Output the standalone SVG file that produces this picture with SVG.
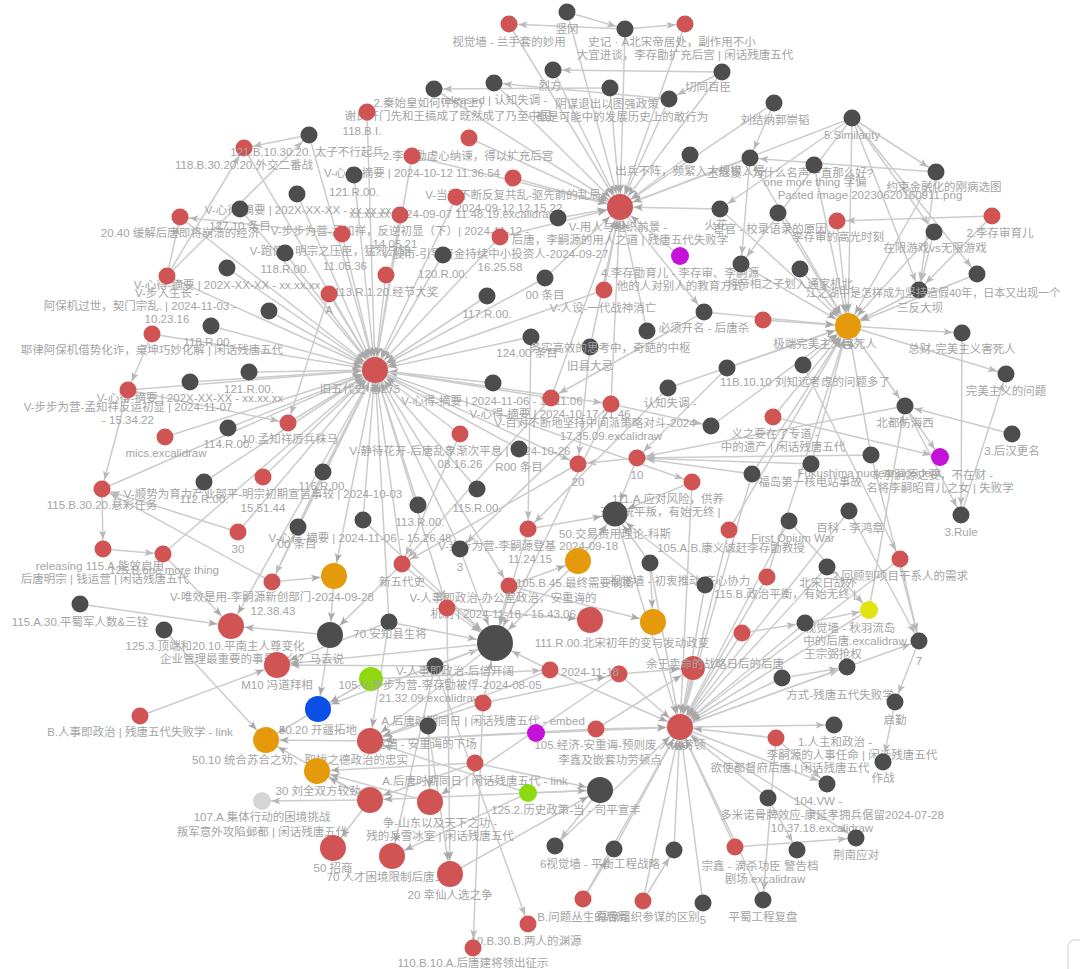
<svg xmlns="http://www.w3.org/2000/svg" width="1080" height="969" viewBox="0 0 1080 969">
<style>
.e path{stroke:#cccccc;stroke-width:1.5;fill:none}
.s{marker-end:url(#a8)}.m{marker-end:url(#a13)}.b{marker-end:url(#a18)}
.r{fill:#d15454}.d{fill:#4d4d4d}.o{fill:#e59a0c}.p{fill:#c412d9}.g{fill:#8fd911}.y{fill:#e3e312}.bl{fill:#0a50e6}.l{fill:#d5d5d5}
text{font-family:"Liberation Sans","Noto Sans CJK SC",sans-serif;font-size:11.5px;fill:#a4a4a4;text-anchor:middle}
.st{text-anchor:start;font-size:11px}
</style>
<defs>
<marker id="a8" viewBox="0 0 10 10" refX="20.5" refY="5" markerWidth="9" markerHeight="9" markerUnits="userSpaceOnUse" orient="auto"><path d="M0,1 L10,5 L0,9 L2.5,5 Z" fill="#b8b8b8"/></marker>
<marker id="a13" viewBox="0 0 10 10" refX="25.5" refY="5" markerWidth="9" markerHeight="9" markerUnits="userSpaceOnUse" orient="auto"><path d="M0,1 L10,5 L0,9 L2.5,5 Z" fill="#a8a8a8"/></marker>
<marker id="a18" viewBox="0 0 10 10" refX="31" refY="5" markerWidth="9" markerHeight="9" markerUnits="userSpaceOnUse" orient="auto"><path d="M0,1 L10,5 L0,9 L2.5,5 Z" fill="#b0b0b0"/></marker>
</defs>
<rect width="1080" height="969" fill="#ffffff"/>
<g id="edges" class="e">
<path class="m" d="M244 148L375 370"/><path class="m" d="M309 135L375 370"/><path class="m" d="M354 175L375 370"/><path class="m" d="M297 194L375 370"/><path class="m" d="M240 209L375 370"/><path class="m" d="M342 234L375 370"/><path class="m" d="M285 253L375 370"/><path class="m" d="M227 268L375 370"/><path class="m" d="M167 276L375 370"/><path class="m" d="M329 294L375 370"/><path class="m" d="M269 311L375 370"/><path class="m" d="M211 326L375 370"/><path class="m" d="M152 334L375 370"/><path class="m" d="M249 372L375 370"/><path class="m" d="M190 382L375 370"/><path class="m" d="M128 390L375 370"/><path class="m" d="M165 437L375 370"/><path class="m" d="M228 428L375 370"/><path class="m" d="M288 423L375 370"/><path class="m" d="M323 472L375 370"/><path class="m" d="M263 477L375 370"/><path class="m" d="M204 482L375 370"/><path class="m" d="M298 527L375 370"/><path class="m" d="M363 520L375 370"/><path class="m" d="M418 505L375 370"/><path class="m" d="M443 255L375 370"/><path class="m" d="M386 275L375 370"/><path class="m" d="M400 215L375 370"/><path class="m" d="M412 156L375 370"/><path class="m" d="M487 296L375 370"/><path class="m" d="M531 337L375 370"/><path class="m" d="M493 383L375 370"/><path class="m" d="M551 398L375 370"/><path class="m" d="M460 434L375 370"/><path class="m" d="M477 489L375 370"/><path class="m" d="M519 449L375 370"/><path class="m" d="M402 564L375 370"/><path class="m" d="M272 582L375 370"/><path class="m" d="M460 549L375 370"/><path class="m" d="M367 112L375 370"/><path class="m" d="M456 197L375 370"/><path class="m" d="M180 217L375 370"/><path class="m" d="M238 532L375 370"/><path class="m" d="M545 278L375 370"/><path class="m" d="M389 622L375 370"/><path class="m" d="M604 290L375 370"/><path class="m" d="M500 237L375 370"/><path class="m" d="M102 489L375 370"/><path class="m" d="M163 554L375 370"/>
<path class="s" d="M375 370L611 404"/><path class="s" d="M375 370L578 464"/><path class="s" d="M375 370L447 608"/><path class="s" d="M375 370L509 586"/><path class="m" d="M375 370L334 576"/><path class="m" d="M375 370L231 626"/><path class="s" d="M375 370L692 482"/>
<path class="s" d="M309 135L244 148"/><path class="s" d="M167 276L244 148"/><path class="s" d="M167 276L180 217"/><path class="s" d="M342 234L180 217"/><path class="s" d="M167 276L309 135"/><path class="s" d="M152 334L128 390"/><path class="s" d="M128 390L102 489"/><path class="s" d="M102 489L103 549"/><path class="s" d="M128 390L288 423"/><path class="s" d="M238 532L102 489"/><path class="s" d="M272 582L102 489"/><path class="m" d="M163 554L231 626"/><path class="m" d="M80 604L231 626"/><path class="m" d="M164 630L266 740"/><path class="m" d="M140 716L277 665"/><path class="m" d="M272 582L334 576"/><path class="s" d="M323 472L272 582"/><path class="s" d="M329 294L288 423"/><path class="s" d="M103 549L163 554"/>
<path class="m" d="M330 635L231 626"/><path class="m" d="M330 635L318 709"/><path class="m" d="M389 622L277 665"/><path class="m" d="M435 666L277 665"/><path class="m" d="M371 679L318 709"/><path class="m" d="M370 741L266 740"/><path class="m" d="M318 709L266 740"/><path class="m" d="M370 800L266 740"/><path class="m" d="M370 800L317 771"/><path class="m" d="M430 802L317 771"/><path class="m" d="M475 763L317 771"/><path class="s" d="M370 800L262 801"/><path class="m" d="M370 800L333 848"/><path class="m" d="M483 703L370 741"/><path class="m" d="M536 733L370 741"/><path class="m" d="M528 793L370 741"/><path class="m" d="M596 729L370 741"/><path class="m" d="M475 763L370 800"/><path class="m" d="M600 790L370 800"/><path class="m" d="M528 793L392 856"/><path class="m" d="M428 726L450 874"/><path class="m" d="M447 608L450 874"/><path class="s" d="M435 666L528 924"/><path class="s" d="M483 703L473 948"/><path class="m" d="M402 564L330 635"/><path class="m" d="M334 576L330 635"/><path class="m" d="M389 622L370 741"/><path class="m" d="M428 726L430 802"/><path class="m" d="M435 666L392 856"/><path class="m" d="M550 670L370 741"/><path class="m" d="M619 674L430 802"/>
<path class="b" d="M447 608L495 643"/><path class="b" d="M509 586L495 643"/><path class="b" d="M402 564L495 643"/><path class="b" d="M460 549L495 643"/><path class="b" d="M389 622L495 643"/><path class="b" d="M435 666L495 643"/><path class="b" d="M483 703L495 643"/><path class="b" d="M550 670L495 643"/><path class="b" d="M578 561L495 643"/><path class="b" d="M528 529L495 643"/><path class="b" d="M363 520L495 643"/><path class="b" d="M611 404L495 643"/><path class="m" d="M495 643L370 741"/><path class="m" d="M495 643L277 665"/><path class="m" d="M495 643L318 709"/>
<path class="m" d="M578 561L615 514"/><path class="m" d="M692 482L615 514"/><path class="m" d="M637 458L615 514"/><path class="m" d="M528 529L615 514"/><path class="m" d="M650 563L615 514"/><path class="m" d="M705 585L615 514"/><path class="s" d="M637 458L578 464"/><path class="s" d="M578 464L402 564"/><path class="s" d="M811 464L637 458"/><path class="s" d="M871 455L637 458"/><path class="s" d="M752 474L637 458"/><path class="s" d="M727 368L637 458"/><path class="s" d="M905 406L637 458"/><path class="s" d="M611 404L460 549"/><path class="s" d="M611 404L711 426"/><path class="s" d="M551 398L402 564"/><path class="s" d="M460 434L402 564"/><path class="s" d="M590 347L578 464"/><path class="m" d="M509 586L578 561"/><path class="m" d="M447 608L590 620"/><path class="m" d="M509 586L653 622"/><path class="m" d="M650 563L653 622"/><path class="s" d="M531 337L528 529"/><path class="s" d="M668 388L528 529"/><path class="s" d="M704 312L551 398"/>
<path class="m" d="M567 12L620 207"/><path class="m" d="M509 24L620 207"/><path class="m" d="M625 29L620 207"/><path class="m" d="M685 24L620 207"/><path class="m" d="M553 70L620 207"/><path class="m" d="M494 83L620 207"/><path class="m" d="M610 88L620 207"/><path class="m" d="M669 99L620 207"/><path class="m" d="M722 72L620 207"/><path class="m" d="M774 103L620 207"/><path class="m" d="M690 155L620 207"/><path class="m" d="M720 209L620 207"/><path class="m" d="M558 218L620 207"/><path class="m" d="M513 178L620 207"/><path class="m" d="M469 138L620 207"/><path class="m" d="M500 237L620 207"/><path class="m" d="M545 278L620 207"/><path class="m" d="M604 290L620 207"/><path class="m" d="M680 256L620 207"/><path class="m" d="M750 158L620 207"/><path class="m" d="M852 118L620 207"/><path class="m" d="M434 89L620 207"/><path class="m" d="M551 398L620 207"/><path class="m" d="M611 404L620 207"/><path class="m" d="M412 156L620 207"/><path class="s" d="M620 207L704 312"/><path class="m" d="M590 347L620 207"/><path class="m" d="M647 331L620 207"/>
<path class="s" d="M625 29L509 24"/><path class="s" d="M625 29L685 24"/><path class="s" d="M722 72L553 70"/><path class="s" d="M610 88L434 89"/><path class="s" d="M567 12L625 29"/><path class="s" d="M669 99L494 83"/><path class="s" d="M722 72L669 99"/>
<path class="m" d="M852 118L848 326"/><path class="m" d="M750 158L848 326"/><path class="m" d="M814 165L848 326"/><path class="m" d="M936 172L848 326"/><path class="m" d="M778 213L848 326"/><path class="m" d="M837 221L848 326"/><path class="m" d="M934 232L848 326"/><path class="m" d="M741 264L848 326"/><path class="m" d="M800 269L848 326"/><path class="m" d="M919 290L848 326"/><path class="m" d="M763 320L848 326"/><path class="m" d="M977 274L848 326"/><path class="m" d="M803 365L848 326"/><path class="m" d="M727 368L848 326"/><path class="m" d="M773 417L848 326"/><path class="m" d="M811 464L848 326"/><path class="m" d="M871 455L848 326"/><path class="m" d="M752 474L848 326"/><path class="m" d="M729 530L848 326"/><path class="m" d="M767 577L848 326"/><path class="m" d="M704 312L848 326"/><path class="m" d="M711 426L848 326"/><path class="m" d="M668 388L848 326"/><path class="m" d="M720 209L848 326"/>
<path class="s" d="M848 326L962 333"/><path class="s" d="M848 326L1006 374"/><path class="s" d="M848 326L905 406"/><path class="s" d="M852 118L936 172"/><path class="s" d="M936 172L750 158"/><path class="s" d="M852 118L934 232"/><path class="s" d="M852 118L919 290"/><path class="s" d="M852 118L977 274"/><path class="s" d="M852 118L720 209"/><path class="s" d="M774 103L750 158"/><path class="s" d="M992 216L837 221"/><path class="s" d="M936 172L919 290"/><path class="s" d="M934 232L919 290"/><path class="s" d="M750 158L741 264"/><path class="s" d="M992 216L919 290"/><path class="s" d="M852 118L741 264"/>
<path class="s" d="M962 333L961 515"/><path class="s" d="M961 515L1006 374"/><path class="s" d="M1012 434L905 406"/><path class="s" d="M905 406L961 515"/><path class="s" d="M905 406L940 457"/><path class="s" d="M773 417L940 457"/><path class="s" d="M871 455L919 641"/><path class="s" d="M900 559L919 641"/><path class="s" d="M869 610L905 406"/><path class="s" d="M849 511L919 641"/><path class="s" d="M803 365L900 559"/>
<path class="m" d="M693 668L680 727"/><path class="m" d="M619 674L680 727"/><path class="m" d="M596 729L680 727"/><path class="m" d="M776 738L680 727"/><path class="m" d="M782 678L680 727"/><path class="m" d="M768 798L680 727"/><path class="m" d="M735 847L680 727"/><path class="m" d="M674 850L680 727"/><path class="m" d="M614 849L680 727"/><path class="m" d="M643 901L680 727"/><path class="m" d="M703 903L680 727"/><path class="m" d="M583 899L680 727"/><path class="m" d="M742 633L680 727"/><path class="m" d="M767 577L680 727"/><path class="m" d="M705 585L680 727"/><path class="m" d="M650 563L680 727"/><path class="m" d="M550 670L680 727"/><path class="m" d="M536 733L680 727"/><path class="m" d="M615 514L680 727"/><path class="m" d="M729 530L680 727"/><path class="m" d="M849 511L680 727"/><path class="m" d="M900 559L680 727"/><path class="m" d="M869 610L680 727"/><path class="m" d="M805 623L680 727"/><path class="m" d="M827 567L680 727"/><path class="m" d="M752 474L680 727"/><path class="m" d="M763 900L680 727"/><path class="m" d="M555 846L680 727"/><path class="m" d="M789 521L680 727"/><path class="m" d="M692 482L680 727"/>
<path class="s" d="M680 727L834 725"/><path class="s" d="M680 727L847 667"/><path class="s" d="M680 727L827 784"/><path class="s" d="M680 727L856 838"/><path class="s" d="M680 727L919 641"/>
<path class="s" d="M919 641L895 702"/><path class="s" d="M895 702L883 762"/><path class="s" d="M735 847L856 838"/><path class="s" d="M768 798L797 850"/><path class="s" d="M776 738L763 900"/><path class="s" d="M782 678L847 667"/><path class="s" d="M805 623L869 610"/><path class="s" d="M742 633L805 623"/><path class="s" d="M776 738L827 784"/><path class="s" d="M789 521L869 610"/>
<path class="m" d="M583 899L614 849"/><path class="m" d="M528 793L600 790"/><path class="m" d="M450 874L600 790"/><path class="m" d="M475 763L600 790"/><path class="m" d="M619 674L693 668"/><path class="m" d="M483 703L619 674"/><path class="s" d="M643 901L674 850"/><path class="s" d="M600 790L555 846"/><path class="m" d="M596 729L693 668"/><path class="s" d="M371 679L550 670"/>
</g>
<g id="n1"><circle class="d" cx="567" cy="12" r="8.5"/><text x="567" y="33">竖冈</text></g>
<g id="n2"><circle class="r" cx="509" cy="24" r="8.5"/><text x="509" y="46">视觉墙 - 兰手套的妙用</text></g>
<g id="n3"><circle class="d" cx="625" cy="29" r="8.5"/><text x="672" y="46">史记 · A北宋帝居处，副作用不小</text><text x="685" y="59">大宜进谈，李存勖扩充后宫 | 闲话残唐五代</text></g>
<g id="n4"><circle class="r" cx="685" cy="24" r="8.5"/></g>
<g id="n5"><circle class="d" cx="553" cy="70" r="8.5"/><text x="550" y="90">烈方</text></g>
<g id="n6"><circle class="d" cx="434" cy="89" r="8.5"/><text x="428" y="107">2.秦始皇如何评价(上)</text><text x="448" y="120">谢氏开门先和王搞成了既然成了乃至中国</text></g>
<g id="n7"><circle class="d" cx="494" cy="83" r="8.5"/><text x="494" y="104">released | 认知失调 -</text></g>
<g id="n8"><circle class="d" cx="610" cy="88" r="8.5"/><text x="607" y="108">阴谋退出以图强政策</text><text x="622" y="121">都是可能中的发展历史上的敢行为</text></g>
<g id="n9"><circle class="d" cx="669" cy="99" r="8.5"/></g>
<g id="n10"><circle class="d" cx="722" cy="72" r="8.5"/><text x="708" y="91">切同百臣</text></g>
<g id="n11"><circle class="r" cx="367" cy="112" r="8.5"/><text x="362" y="135">118.B.I.</text></g>
<g id="n12"><circle class="r" cx="469" cy="138" r="8.5"/><text x="468" y="160">2.李存勖虚心纳谏，得以扩充后宫</text></g>
<g id="n13"><circle class="r" cx="412" cy="156" r="8.5"/><text x="412" y="177">V-心得-摘要 | 2024-10-12 11.36.54</text></g>
<g id="n14"><circle class="r" cx="513" cy="178" r="8.5"/><text x="513" y="199">V-当机不断反复共乱-驱先前的乱局</text><text x="509" y="212">2024-09-12 12.15.22</text></g>
<g id="n15"><circle class="r" cx="456" cy="197" r="8.5"/><text x="453" y="218">xx.xx.xx  2024-09-07 11.48.19.excalidraw</text></g>
<g id="n16"><circle class="r" cx="400" cy="215" r="8.5"/><text x="400" y="235">V-步步为营-孟知祥，反逆初显（下）| 2024-11-12 -</text><text x="395" y="248">14.05.21</text></g>
<g id="n17"><circle class="r" cx="500" cy="237" r="8.5"/><text x="495" y="258">V-股市-引导资金持续中小投资人-2024-09-27</text><text x="500" y="271">16.25.58</text></g>
<g id="n18"><circle class="d" cx="443" cy="255" r="8.5"/><text x="443" y="278">120.R.00.</text></g>
<g id="n19"><circle class="r" cx="386" cy="275" r="8.5"/><text x="386" y="296">113.R.1.20.经节大奖</text></g>
<g id="n20"><circle class="d" cx="545" cy="278" r="8.5"/><text x="545" y="299">00 条目</text></g>
<g id="n21"><circle class="d" cx="487" cy="296" r="8.5"/><text x="487" y="318">117.R.00.</text></g>
<g id="n22"><circle class="r" cx="604" cy="290" r="8.5"/><text x="603" y="312">V-人设-一代战神消亡</text></g>
<g id="n23"><circle class="p" cx="680" cy="256" r="9"/><text x="680" y="277">4.李存勖育儿 - 李存审、李嗣源</text><text x="680" y="290">他的人对别人的教育方式</text></g>
<g id="n24"><circle class="d" cx="704" cy="312" r="8.5"/><text x="704" y="332">必须开名 - 后唐杀</text></g>
<g id="n25"><circle class="d" cx="690" cy="155" r="8.5"/><text x="690" y="175">出兵不阵，频繁入大规模入侵</text></g>
<g id="n26"><circle class="d" cx="720" cy="209" r="8.5"/><text x="716" y="229">火花</text></g>
<g id="n27"><circle class="d" cx="558" cy="218" r="8.5"/></g>
<g id="hub2"><circle class="r" cx="620" cy="207" r="13"/><text x="618" y="231">V-用人与组织前景 -</text><text x="620" y="244">后唐，李嗣源的用人之道 | 残唐五代失败学</text></g>
<g id="n28"><circle class="d" cx="774" cy="103" r="8.5"/><text x="775" y="124">刘结纳郭崇韬</text></g>
<g id="n29"><circle class="d" cx="852" cy="118" r="8.5"/><text x="852" y="139">5.Similarity</text></g>
<g id="n30"><circle class="d" cx="750" cy="158" r="8.5"/><text x="790" y="177">王继岌 - 为什么名声一直那么好?</text></g>
<g id="n31"><circle class="d" cx="814" cy="165" r="8.5"/><text x="815" y="186">one more thing 学偏</text></g>
<g id="n32"><circle class="d" cx="936" cy="172" r="8.5"/><text x="944" y="191">约束金融化的刚病选图</text><text x="870" y="199">Pasted image 20230620160911.png</text></g>
<g id="n33"><circle class="d" cx="778" cy="213" r="8.5"/><text x="770" y="233">宦官 - 校录语录的原因</text></g>
<g id="n34"><circle class="r" cx="837" cy="221" r="8.5"/><text x="838" y="241">李存审的高光时刻</text></g>
<g id="n35"><circle class="r" cx="992" cy="216" r="8.5"/><text x="1000" y="237">2.李存审育儿</text></g>
<g id="n36"><circle class="d" cx="934" cy="232" r="8.5"/><text x="935" y="252">在限游戏vs无限游戏</text></g>
<g id="n37"><circle class="d" cx="741" cy="264" r="8.5"/></g>
<g id="n38"><circle class="d" cx="800" cy="269" r="8.5"/><text x="790" y="288">将帝相之子划入通家机北</text></g>
<g id="n39"><circle class="d" cx="977" cy="274" r="8.5"/></g>
<g id="n40"><circle class="d" cx="919" cy="290" r="8.5"/><text class="st" x="806" y="297">江之湖中是怎样成为坚持造假40年，日本又出现一个</text><text x="920" y="312">三反大坝</text></g>
<g id="n41"><circle class="r" cx="763" cy="320" r="8.5"/></g>
<g id="hub3"><circle class="o" cx="848" cy="326" r="13"/><text x="825" y="348">极端完美主义害死人</text></g>
<g id="n42"><circle class="d" cx="962" cy="333" r="8.5"/><text x="962" y="353">总财-完美主义害死人</text></g>
<g id="n43"><circle class="d" cx="1006" cy="374" r="8.5"/><text x="1006" y="395">完美主义的问题</text></g>
<g id="n44"><circle class="d" cx="905" cy="406" r="8.5"/><text x="905" y="427">北都防海西</text></g>
<g id="n45"><circle class="d" cx="1012" cy="434" r="8.5"/><text x="1012" y="455">3.后汉更名</text></g>
<g id="n46"><circle class="p" cx="940" cy="457" r="9"/><text x="933" y="479">5.李嗣源之要，不在财 -</text><text x="940" y="492">名将李嗣昭育儿之女 | 失败学</text></g>
<g id="n47"><circle class="d" cx="961" cy="515" r="8.5"/><text x="961" y="536">3.Rule</text></g>
<g id="n48"><circle class="d" cx="803" cy="365" r="8.5"/><text x="805" y="386">11B.10.10 刘知远考虑的问题多了</text></g>
<g id="n49"><circle class="d" cx="727" cy="368" r="8.5"/></g>
<g id="n50"><circle class="r" cx="773" cy="417" r="8.5"/><text x="775" y="438">义之要在了专道 -</text><text x="783" y="451">中的遗产 | 闲话残唐五代</text></g>
<g id="n51"><circle class="d" cx="871" cy="455" r="8.5"/><text x="869" y="477">Fukushima nuclear accident</text></g>
<g id="n52"><circle class="d" cx="811" cy="464" r="8.5"/><text x="810" y="486">福岛第一核电站事故</text></g>
<g id="n53"><circle class="d" cx="752" cy="474" r="8.5"/></g>
<g id="n54"><circle class="d" cx="849" cy="511" r="8.5"/><text x="850" y="532">百科 - 李鸿章</text></g>
<g id="n55"><circle class="d" cx="789" cy="521" r="8.5"/><text x="793" y="542">First Opium War</text></g>
<g id="n56"><circle class="r" cx="729" cy="530" r="8.5"/><text x="731" y="552">105.A.B.康义诚赶李存勖教授</text></g>
<g id="n57"><circle class="r" cx="900" cy="559" r="8.5"/><text x="900" y="580">2.回顾到项目干系人的需求</text></g>
<g id="n58"><circle class="d" cx="827" cy="567" r="8.5"/><text x="828" y="587">北宋日战外</text></g>
<g id="n59"><circle class="r" cx="767" cy="577" r="8.5"/><text x="785" y="598">115.B.政治平衡，有始无终 |</text></g>
<g id="n60"><circle class="y" cx="869" cy="610" r="9"/><text x="850" y="632">视觉墙 - 秋羽流岛</text></g>
<g id="n61"><circle class="d" cx="805" cy="623" r="8.5"/><text x="855" y="645">中的后唐.excalidraw</text><text x="833" y="658">王宗弼抢权</text></g>
<g id="n62"><circle class="r" cx="742" cy="633" r="8.5"/></g>
<g id="n63"><circle class="d" cx="919" cy="641" r="8.5"/><text x="919" y="665">7</text></g>
<g id="n64"><circle class="d" cx="847" cy="667" r="8.5"/><text x="840" y="699">方式-残唐五代失败学</text></g>
<g id="n65"><circle class="d" cx="782" cy="678" r="8.5"/></g>
<g id="n66"><circle class="d" cx="895" cy="702" r="8.5"/><text x="895" y="724">启勤</text></g>
<g id="n67"><circle class="d" cx="834" cy="725" r="8.5"/><text x="835" y="746">1.人主和政治 -</text><text x="852" y="759">李嗣源的人事任命 | 闲话残唐五代</text></g>
<g id="n68"><circle class="r" cx="776" cy="738" r="8.5"/><text x="790" y="772">欲使都督府后唐 | 闲话残唐五代</text></g>
<g id="n69"><circle class="d" cx="883" cy="762" r="8.5"/><text x="883" y="782">作战</text></g>
<g id="n70"><circle class="d" cx="827" cy="784" r="8.5"/><text x="818" y="805">104.VW -</text><text x="832" y="819">多米诺骨牌效应-康延孝拥兵倨留2024-07-28</text><text x="822" y="832">10.37.18.excalidraw</text></g>
<g id="n71"><circle class="d" cx="768" cy="798" r="8.5"/></g>
<g id="n72"><circle class="d" cx="856" cy="838" r="8.5"/><text x="856" y="859">荆南应对</text></g>
<g id="n73"><circle class="d" cx="797" cy="850" r="8.5"/></g>
<g id="n74"><circle class="r" cx="735" cy="847" r="8.5"/><text x="760" y="870">宗鑫 - 滴杀功臣 警告档</text><text x="765" y="883">剧场.excalidraw</text></g>
<g id="n75"><circle class="d" cx="763" cy="900" r="8.5"/><text x="763" y="921">平蜀工程复盘</text></g>
<g id="hub4"><circle class="r" cx="680" cy="727" r="13"/></g>
<g id="n76"><circle class="r" cx="693" cy="668" r="12"/><text x="715" y="668">余王卖命的战略日后的后唐</text></g>
<g id="n77"><circle class="r" cx="619" cy="674" r="8.5"/></g>
<g id="n78"><circle class="r" cx="550" cy="670" r="8.5"/><text x="590" y="676">2024-11-18</text></g>
<g id="n79"><circle class="d" cx="435" cy="666" r="8.5"/><text x="455" y="675">V-人事即政治-后信开阔</text></g>
<g id="n80"><circle class="g" cx="371" cy="679" r="12"/><text x="440" y="689">105.V-步步为营-李存勖被俘-2024-08-05</text><text x="430" y="702">21.32.09.excalidraw</text></g>
<g id="n81"><circle class="r" cx="483" cy="703" r="8.5"/><text x="483" y="725">A.后唐时期同日 | 闲话残唐五代 - embed</text></g>
<g id="n82"><circle class="d" cx="428" cy="726" r="8.5"/><text x="420" y="748">视觉墙 - 安重诲的下场</text></g>
<g id="n83"><circle class="p" cx="536" cy="733" r="9"/></g>
<g id="n84"><circle class="r" cx="596" cy="729" r="8.5"/><text x="620" y="749">105.经济-安重诲-预则废 人治劳顿</text><text x="610" y="764">李鑫及嵌套功劳顿点</text></g>
<g id="n85"><circle class="r" cx="370" cy="741" r="13"/></g>
<g id="n86"><circle class="r" cx="475" cy="763" r="8.5"/><text x="475" y="785">A.后唐时期同日 | 闲话残唐五代 - link</text></g>
<g id="n87"><circle class="r" cx="370" cy="800" r="13"/></g>
<g id="n88"><circle class="r" cx="430" cy="802" r="13"/><text x="440" y="827">争-山东以及天下之功 -</text><text x="440" y="840">残的兵雪冰室 | 闲话残唐五代</text></g>
<g id="n89"><circle class="g" cx="528" cy="793" r="9"/><text x="566" y="814">125.2.历史政策-当 - 司平宣丰</text></g>
<g id="n90"><circle class="d" cx="600" cy="790" r="13"/></g>
<g id="n91"><circle class="r" cx="392" cy="856" r="13"/><text x="392" y="881">70 人才困境限制后唐上限</text></g>
<g id="n92"><circle class="r" cx="450" cy="874" r="13"/><text x="450" y="899">20 幸仙人选之争</text></g>
<g id="n93"><circle class="d" cx="555" cy="846" r="8.5"/><text x="600" y="868">6视觉墙 - 平衡工程战略</text></g>
<g id="n94"><circle class="d" cx="614" cy="849" r="8.5"/></g>
<g id="n95"><circle class="d" cx="674" cy="850" r="8.5"/></g>
<g id="n96"><circle class="r" cx="583" cy="899" r="8.5"/><text x="583" y="921">B.问题丛生的后周</text></g>
<g id="n97"><circle class="r" cx="643" cy="901" r="8.5"/><text x="648" y="921">幕僚组织参谋的区别</text></g>
<g id="n98"><circle class="d" cx="703" cy="903" r="8.5"/><text x="703" y="924">5</text></g>
<g id="n99"><circle class="r" cx="528" cy="924" r="8.5"/><text x="526" y="945">10.B.30.B.两人的渊源</text></g>
<g id="n100"><circle class="r" cx="473" cy="948" r="8.5"/><text x="473" y="967">110.B.10.A.后唐建将领出征示</text></g>
<g id="hub5"><circle class="d" cx="495" cy="643" r="18"/></g>
<g id="n101"><circle class="d" cx="531" cy="337" r="8.5"/><text x="527" y="357">124.00 条目</text></g>
<g id="n102"><circle class="d" cx="590" cy="347" r="8.5"/><text x="590" y="370">旧县大忌</text></g>
<g id="n103"><circle class="d" cx="647" cy="331" r="8.5"/><text x="610" y="352">务实高效的思考中，奇葩的中枢</text></g>
<g id="n104"><circle class="d" cx="668" cy="388" r="8.5"/><text x="670" y="407">认知失调 -</text></g>
<g id="n105"><circle class="d" cx="493" cy="383" r="8.5"/><text x="492" y="405">V-心得-摘要 | 2024-11-06 - 11.11.06</text></g>
<g id="n106"><circle class="r" cx="551" cy="398" r="8.5"/><text x="550" y="418">V-心得-摘要 | 2024-10-17 21.46</text></g>
<g id="n107"><circle class="r" cx="611" cy="404" r="8.5"/><text x="595" y="427">V-百对不断地坚持中间派策略对斗-2024</text><text x="611" y="440">17.35.09.excalidraw</text></g>
<g id="n108"><circle class="r" cx="460" cy="434" r="8.5"/><text x="460" y="455">V-静待花开-后唐乱象渐次平息 | 2024-10-26</text><text x="460" y="468">08.16.26</text></g>
<g id="n109"><circle class="d" cx="519" cy="449" r="8.5"/><text x="519" y="471">R00 条目</text></g>
<g id="n110"><circle class="r" cx="578" cy="464" r="8.5"/><text x="578" y="486">20</text></g>
<g id="n111"><circle class="r" cx="637" cy="458" r="8.5"/><text x="637" y="479">10</text></g>
<g id="n112"><circle class="r" cx="692" cy="482" r="8.5"/><text x="668" y="503">111.A.应对风险，供养</text><text x="660" y="516">王一统平叛，有始无终 |</text></g>
<g id="n113"><circle class="d" cx="711" cy="426" r="8.5"/></g>
<g id="n114"><circle class="d" cx="477" cy="489" r="8.5"/><text x="477" y="512">115.R.00.</text></g>
<g id="n115"><circle class="d" cx="418" cy="505" r="8.5"/><text x="420" y="526">113.R.00.</text></g>
<g id="n116"><circle class="d" cx="363" cy="520" r="8.5"/><text x="360" y="542">V-心得-摘要 | 2024-11-06 - 15.26.48</text></g>
<g id="n117"><circle class="r" cx="528" cy="529" r="8.5"/><text x="528" y="550">V-步步为营-李嗣源登基 2024-09-18</text><text x="530" y="563">11.24.15</text></g>
<g id="n118"><circle class="d" cx="615" cy="514" r="12.5"/><text x="615" y="538">50.交易费用理论-科斯</text></g>
<g id="n119"><circle class="d" cx="460" cy="549" r="8.5"/><text x="460" y="571">3</text></g>
<g id="n120"><circle class="o" cx="578" cy="561" r="13"/><text x="575" y="587">105.B.45.最终需要制衡</text></g>
<g id="n121"><circle class="r" cx="402" cy="564" r="8.5"/><text x="402" y="586">新五代史</text></g>
<g id="n122"><circle class="d" cx="650" cy="563" r="8.5"/><text x="680" y="585">视觉墙 - 初衷推动-齐心协力</text></g>
<g id="n123"><circle class="d" cx="705" cy="585" r="8.5"/></g>
<g id="n124"><circle class="r" cx="509" cy="586" r="8.5"/><text x="503" y="602">V-人事即政治-办公室政治，安重诲的</text><text x="508" y="618">机制 | 2024-11-18 - 15.43.06.1</text></g>
<g id="n125"><circle class="r" cx="447" cy="608" r="8.5"/></g>
<g id="n126"><circle class="o" cx="653" cy="622" r="13"/></g>
<g id="n127"><circle class="r" cx="590" cy="620" r="13"/><text x="622" y="647">111.R.00.北宋初年的变与发动政变</text></g>
<g id="n128"><circle class="d" cx="389" cy="622" r="8.5"/><text x="390" y="638">70.安知县生将</text></g>
<g id="hub1"><circle class="r" cx="375" cy="370" r="13"/><text x="360" y="393">旧五代史·卷275</text></g>
<g id="n129"><circle class="r" cx="244" cy="148" r="8.5"/><text x="244" y="169">118.B.30.20.20.外交二番战</text></g>
<g id="n130"><circle class="d" cx="309" cy="135" r="8.5"/><text x="307" y="156">121.B.10.30.20. 太子不行起兵</text></g>
<g id="n131"><circle class="d" cx="354" cy="175" r="8.5"/><text x="354" y="196">121.R.00.</text></g>
<g id="n132"><circle class="d" cx="297" cy="194" r="8.5"/><text x="298" y="214">V-心得-摘要 | 202X-XX-XX - xx.xx.xx</text></g>
<g id="n133"><circle class="r" cx="180" cy="217" r="8.5"/><text x="180" y="237">20.40 缓解后唐即将崩溃的经济</text></g>
<g id="n134"><circle class="d" cx="240" cy="209" r="8.5"/><text x="240" y="230">127.10 条目</text></g>
<g id="n135"><circle class="r" cx="342" cy="234" r="8.5"/><text x="330" y="255">V-跑偏，明宗之压臣，猛烈只能</text><text x="345" y="270">11.05.36</text></g>
<g id="n136"><circle class="d" cx="285" cy="253" r="8.5"/><text x="285" y="273">118.R.00.</text></g>
<g id="n137"><circle class="d" cx="227" cy="268" r="8.5"/><text x="227" y="289">V-心得-摘要 | 202X-XX-XX - xx.xx.xx</text></g>
<g id="n138"><circle class="r" cx="167" cy="276" r="8.5"/><text x="167" y="297">V-步入生长 -</text><text x="140" y="310">阿保机过世，契门宗乱. | 2024-11-03 -</text><text x="167" y="323">10.23.16</text></g>
<g id="n139"><circle class="r" cx="329" cy="294" r="8.5"/><text x="329" y="314">A</text></g>
<g id="n140"><circle class="d" cx="269" cy="311" r="8.5"/></g>
<g id="n141"><circle class="d" cx="211" cy="326" r="8.5"/><text x="208" y="346">118.R.00.</text></g>
<g id="n142"><circle class="r" cx="152" cy="334" r="8.5"/><text x="152" y="354">耶律阿保机借势化诈，桌坤巧妙化解 | 闲话残唐五代</text></g>
<g id="n143"><circle class="d" cx="249" cy="372" r="8.5"/><text x="249" y="393">121.R.00.</text></g>
<g id="n144"><circle class="d" cx="190" cy="382" r="8.5"/><text x="190" y="402">V-心得-摘要 | 202X-XX-XX - xx.xx.xx</text></g>
<g id="n145"><circle class="r" cx="128" cy="390" r="8.5"/><text x="128" y="411">V-步步为营-孟知祥反运初显 | 2024-11-07</text><text x="128" y="424">- 15.34.22</text></g>
<g id="n146"><circle class="r" cx="165" cy="437" r="8.5"/><text x="166" y="457">mics.excalidraw</text></g>
<g id="n147"><circle class="d" cx="228" cy="428" r="8.5"/><text x="228" y="448">114.R.00.</text></g>
<g id="n148"><circle class="r" cx="288" cy="423" r="8.5"/><text x="290" y="443">10.孟知祥厉兵秣马</text></g>
<g id="n149"><circle class="d" cx="323" cy="472" r="8.5"/><text x="323" y="490">116.R.00.</text></g>
<g id="n150"><circle class="r" cx="263" cy="477" r="8.5"/><text x="263" y="498">V-顺势为育力产业部平-明宗初期宣旨事较 | 2024-10-03</text><text x="263" y="512">15.51.44</text></g>
<g id="n151"><circle class="d" cx="204" cy="482" r="8.5"/><text x="204" y="503">112.R.00.</text></g>
<g id="n152"><circle class="r" cx="102" cy="489" r="8.5"/><text x="102" y="509">115.B.30.20.悬彩任务</text></g>
<g id="n153"><circle class="d" cx="298" cy="527" r="8.5"/><text x="297" y="548">00 条目</text></g>
<g id="n154"><circle class="r" cx="238" cy="532" r="8.5"/><text x="238" y="553">30</text></g>
<g id="n155"><circle class="r" cx="103" cy="549" r="8.5"/><text x="100" y="570">releasing 115.A.能效启用</text><text x="105" y="583">后唐明宗 | 钱运营 | 闲话残唐五代</text></g>
<g id="n156"><circle class="r" cx="163" cy="554" r="8.5"/><text x="164" y="574">125.B.one more thing</text></g>
<g id="n157"><circle class="r" cx="272" cy="582" r="8.5"/><text x="272" y="601">V-唯效是用-李嗣源新创部门-2024-09-28</text><text x="273" y="615">12.38.43</text></g>
<g id="n158"><circle class="o" cx="334" cy="576" r="13"/></g>
<g id="n159"><circle class="d" cx="80" cy="604" r="8.5"/><text x="80" y="626">115.A.30.平蜀军人数&amp;三铨</text></g>
<g id="n160"><circle class="d" cx="164" cy="630" r="8.5"/><text x="215" y="650">125.3.顶端和20.10.平南主人尊变化</text><text x="252" y="663">企业管理最重要的事是什么？马云说</text></g>
<g id="n161"><circle class="r" cx="231" cy="626" r="13"/></g>
<g id="n162"><circle class="d" cx="330" cy="635" r="13"/></g>
<g id="n163"><circle class="r" cx="277" cy="665" r="13"/><text x="277" y="689">M10 冯道拜相</text></g>
<g id="n164"><circle class="bl" cx="318" cy="709" r="13"/><text x="318" y="734">50.20 开疆拓地</text></g>
<g id="n165"><circle class="r" cx="140" cy="716" r="8.5"/><text x="140" y="736">B.人事即政治 | 残唐五代失败学 - link</text></g>
<g id="n166"><circle class="o" cx="266" cy="740" r="13"/><text x="300" y="764">50.10 统合苏合之劝、取拢之德政治的忠实</text></g>
<g id="n167"><circle class="o" cx="317" cy="771" r="13"/><text x="318" y="795">30 刘全双方较劲</text></g>
<g id="n168"><circle class="l" cx="262" cy="801" r="9"/><text x="262" y="821">107.A.集体行动的困境挑战</text><text x="262" y="836">叛军意外攻陷邺都 | 闲话残唐五代</text></g>
<g id="n169"><circle class="r" cx="333" cy="848" r="13"/><text x="333" y="872">50 招商</text></g>
<path d="M1080 940 L1076 940 Q1068 940 1068 948 L1068 969" fill="none" stroke="#e0e0e0" stroke-width="1.5"/>
</svg>
